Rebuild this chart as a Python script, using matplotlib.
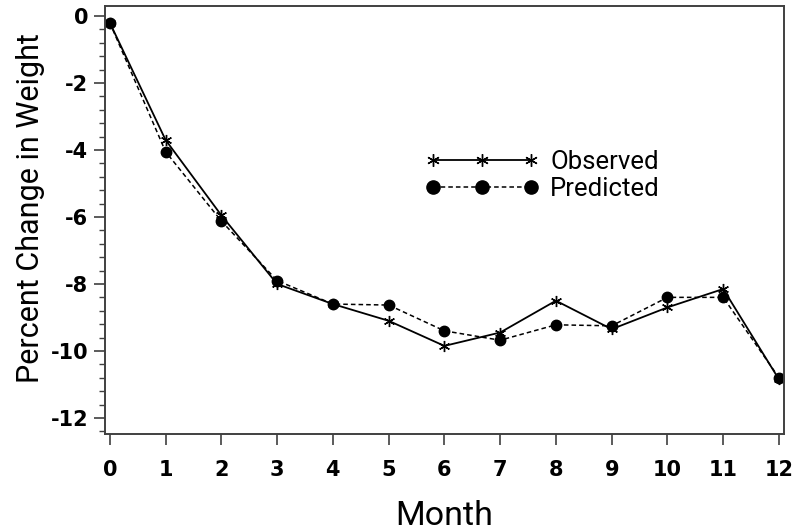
import matplotlib
matplotlib.use("Agg")
import matplotlib.pyplot as plt
from matplotlib.lines import Line2D
from matplotlib.ticker import MultipleLocator

plt.rcParams['axes.unicode_minus'] = False

months = [0, 1, 2, 3, 4, 5, 6, 7, 8, 9, 10, 11, 12]
observed = [-0.2, -3.7, -5.95, -8.0, -8.6, -9.1, -9.85, -9.45, -8.5, -9.35, -8.7, -8.15, -10.85]
predicted = [-0.2, -4.05, -6.12, -7.9, -8.6, -8.63, -9.4, -9.68, -9.22, -9.25, -8.4, -8.4, -10.8]
xticks = list(range(0, 13))
yticks = [0, -2, -4, -6, -8, -10, -12]

label_family = ['Roboto', 'DejaVu Sans']

fig = plt.figure(figsize=(8, 5.31), dpi=100)
ax = fig.add_axes([0.131, 0.1827, 0.849, 0.806])

ax.plot(months, observed, color='black', lw=1.3, marker=(6, 2, 0), ms=8, mew=1.0,
        label='Observed')
ax.plot(months, predicted, color='black', lw=1.1, ls=(0, (3, 2)), marker='o', ms=7.5,
        label='Predicted')

ax.set_xlim(-0.09, 12.09)
ax.set_ylim(-12.48, 0.3)
ax.set_xticks(xticks)
ax.set_yticks(yticks)
ax.yaxis.set_minor_locator(MultipleLocator(0.4))
for lab in ax.get_xticklabels() + ax.get_yticklabels():
    lab.set_fontweight('bold')
    lab.set_fontsize(15)
    lab.set_family('DejaVu Sans')
ax.tick_params(axis='x', which='major', direction='out', length=8, width=1.2,
               color='#404040', pad=11)
ax.tick_params(axis='y', which='major', direction='out', length=8, width=1.2,
               color='#404040', pad=4)
ax.tick_params(axis='y', which='minor', direction='out', length=4.5, width=1.0,
               color='#404040')
for s in ax.spines.values():
    s.set_color('#404040')
    s.set_linewidth(1.4)

ax.set_xlabel('Month', fontsize=24.5, family=label_family, labelpad=14)
ax.set_ylabel('Percent Change in Weight', fontsize=22, family=label_family)
ax.yaxis.set_label_coords(-0.088, 0.527)

handles = [Line2D([], [], color='black', lw=1.3, marker=(6, 2, 0), ms=9, mew=1.0),
           Line2D([], [], color='black', lw=1.1, ls=(0, (3, 2)), marker='o', ms=9.5)]
ax.legend(handles, ['Observed', 'Predicted'], numpoints=3, handlelength=4.4,
          frameon=False, loc='upper left', bbox_to_anchor=(0.446, 0.705),
          prop={'family': label_family, 'size': 18.5}, labelspacing=0.1,
          handletextpad=0.45, borderpad=0.2)

fig.savefig('out.png', dpi=100)
